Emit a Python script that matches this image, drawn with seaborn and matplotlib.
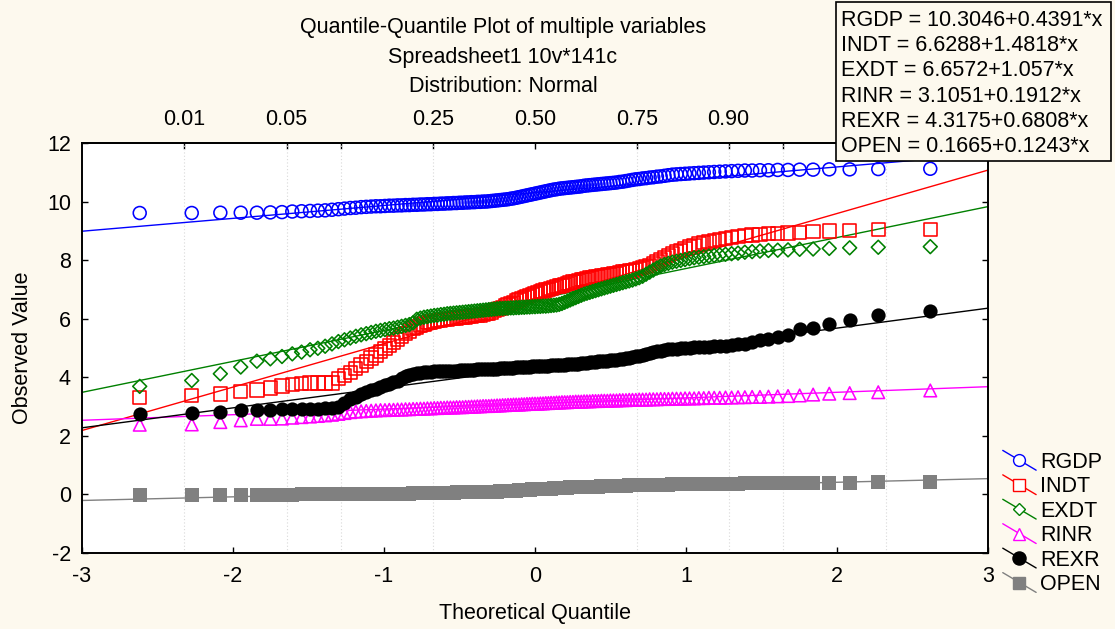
import numpy as np
import pandas as pd
import seaborn as sns
import matplotlib
matplotlib.use("Agg")
import matplotlib.pyplot as plt
from matplotlib.lines import Line2D
from matplotlib.patches import Rectangle
from matplotlib.legend_handler import HandlerLine2D
from statistics import NormalDist

# ---------------- data (sorted observed values, 141 cases each) ----------------
variables = ["RGDP", "INDT", "EXDT", "RINR", "REXR", "OPEN"]

rgdp = [9.61, 9.61, 9.62, 9.62, 9.62, 9.63, 9.64, 9.66, 9.67, 9.68,
        9.69, 9.70, 9.72, 9.74, 9.76, 9.78, 9.79, 9.81, 9.82, 9.83,
        9.84, 9.84, 9.85, 9.86, 9.86, 9.87, 9.87, 9.88, 9.88, 9.89,
        9.89, 9.90, 9.90, 9.91, 9.91, 9.92, 9.92, 9.93, 9.93, 9.94,
        9.94, 9.95, 9.95, 9.96, 9.96, 9.97, 9.97, 9.98, 9.98, 9.99,
        9.99, 10.00, 10.00, 10.01, 10.02, 10.03, 10.04, 10.05, 10.06, 10.07,
        10.08, 10.10, 10.11, 10.13, 10.15, 10.17, 10.19, 10.21, 10.23, 10.25,
        10.27, 10.29, 10.31, 10.33, 10.35, 10.37, 10.39, 10.41, 10.42, 10.44,
        10.45, 10.46, 10.47, 10.48, 10.49, 10.50, 10.51, 10.52, 10.54, 10.55,
        10.56, 10.57, 10.58, 10.59, 10.60, 10.61, 10.62, 10.63, 10.64, 10.65,
        10.67, 10.68, 10.70, 10.72, 10.74, 10.76, 10.77, 10.79, 10.80, 10.82,
        10.83, 10.85, 10.86, 10.88, 10.90, 10.92, 10.93, 10.94, 10.95, 10.96,
        10.97, 10.98, 10.99, 11.00, 11.01, 11.02, 11.03, 11.04, 11.05, 11.06,
        11.06, 11.07, 11.07, 11.08, 11.08, 11.09, 11.09, 11.10, 11.10, 11.11, 11.12]

indt = [3.30, 3.38, 3.43, 3.52, 3.57, 3.63, 3.70, 3.76, 3.79, 3.80,
        3.80, 3.80, 3.81, 3.95, 4.06, 4.17, 4.30, 4.42, 4.55, 4.66,
        4.76, 4.88, 4.98, 5.08, 5.18, 5.28, 5.40, 5.50, 5.58, 5.66,
        5.72, 5.78, 5.82, 5.86, 5.89, 5.91, 5.93, 5.95, 5.97, 5.98,
        6.00, 6.01, 6.02, 6.04, 6.05, 6.06, 6.08, 6.09, 6.10, 6.12,
        6.13, 6.15, 6.17, 6.20, 6.23, 6.27, 6.31, 6.35, 6.39, 6.43,
        6.48, 6.52, 6.56, 6.60, 6.64, 6.68, 6.72, 6.76, 6.80, 6.83,
        6.86, 6.89, 6.92, 6.95, 6.98, 7.00, 7.03, 7.06, 7.09, 7.12,
        7.14, 7.17, 7.20, 7.22, 7.25, 7.28, 7.30, 7.33, 7.35, 7.37,
        7.39, 7.41, 7.43, 7.45, 7.47, 7.48, 7.50, 7.52, 7.53, 7.55,
        7.57, 7.59, 7.61, 7.63, 7.65, 7.68, 7.71, 7.74, 7.78, 7.82,
        7.88, 7.95, 8.02, 8.09, 8.16, 8.22, 8.28, 8.33, 8.39, 8.45,
        8.50, 8.55, 8.60, 8.63, 8.66, 8.70, 8.73, 8.77, 8.80, 8.84,
        8.86, 8.88, 8.90, 8.92, 8.93, 8.95, 8.97, 8.99, 9.01, 9.04, 9.05]

exdt = [3.69, 3.89, 4.12, 4.35, 4.55, 4.63, 4.71, 4.80, 4.86, 4.94,
        4.99, 5.06, 5.14, 5.22, 5.28, 5.34, 5.40, 5.45, 5.49, 5.53,
        5.57, 5.60, 5.63, 5.66, 5.68, 5.71, 5.74, 5.77, 5.80, 5.86,
        5.98, 6.02, 6.05, 6.07, 6.09, 6.11, 6.12, 6.14, 6.15, 6.17,
        6.18, 6.19, 6.20, 6.21, 6.22, 6.23, 6.24, 6.25, 6.26, 6.27,
        6.28, 6.29, 6.30, 6.31, 6.32, 6.33, 6.34, 6.35, 6.35, 6.36,
        6.36, 6.37, 6.37, 6.38, 6.38, 6.39, 6.39, 6.40, 6.40, 6.41,
        6.41, 6.42, 6.42, 6.43, 6.43, 6.44, 6.45, 6.46, 6.47, 6.49,
        6.52, 6.56, 6.60, 6.64, 6.68, 6.72, 6.76, 6.80, 6.84, 6.87,
        6.90, 6.93, 6.96, 6.99, 7.02, 7.05, 7.08, 7.11, 7.14, 7.17,
        7.20, 7.23, 7.26, 7.29, 7.32, 7.36, 7.40, 7.45, 7.52, 7.59,
        7.66, 7.73, 7.80, 7.85, 7.89, 7.93, 7.96, 7.99, 8.02, 8.05,
        8.08, 8.10, 8.12, 8.14, 8.16, 8.18, 8.20, 8.22, 8.24, 8.27,
        8.29, 8.31, 8.33, 8.34, 8.35, 8.37, 8.38, 8.40, 8.42, 8.44, 8.46]

rinr = [2.38, 2.39, 2.47, 2.53, 2.58, 2.58, 2.59, 2.62, 2.64, 2.66,
        2.68, 2.70, 2.72, 2.75, 2.78, 2.81, 2.83, 2.84, 2.85, 2.86,
        2.87, 2.88, 2.88, 2.89, 2.89, 2.90, 2.90, 2.91, 2.91, 2.92,
        2.92, 2.93, 2.93, 2.94, 2.94, 2.95, 2.95, 2.96, 2.96, 2.97,
        2.97, 2.97, 2.98, 2.98, 2.98, 2.99, 2.99, 3.00, 3.00, 3.01,
        3.01, 3.02, 3.02, 3.02, 3.03, 3.03, 3.04, 3.04, 3.05, 3.05,
        3.06, 3.06, 3.07, 3.07, 3.07, 3.08, 3.08, 3.09, 3.09, 3.10,
        3.10, 3.10, 3.11, 3.11, 3.12, 3.12, 3.13, 3.13, 3.14, 3.14,
        3.15, 3.15, 3.15, 3.16, 3.16, 3.17, 3.17, 3.17, 3.18, 3.18,
        3.18, 3.19, 3.19, 3.19, 3.20, 3.20, 3.20, 3.21, 3.21, 3.21,
        3.22, 3.22, 3.22, 3.23, 3.23, 3.23, 3.24, 3.24, 3.24, 3.25,
        3.25, 3.25, 3.26, 3.26, 3.26, 3.27, 3.27, 3.27, 3.28, 3.28,
        3.28, 3.29, 3.29, 3.30, 3.30, 3.30, 3.31, 3.31, 3.32, 3.32,
        3.33, 3.33, 3.34, 3.35, 3.36, 3.38, 3.41, 3.44, 3.46, 3.49, 3.55]

rexr = [2.73, 2.78, 2.81, 2.87, 2.89, 2.90, 2.91, 2.92, 2.92, 2.93,
        2.93, 2.94, 2.95, 2.97, 3.12, 3.25, 3.33, 3.42, 3.50, 3.56,
        3.60, 3.66, 3.72, 3.78, 3.84, 3.89, 3.96, 4.04, 4.08, 4.12,
        4.14, 4.16, 4.17, 4.18, 4.19, 4.20, 4.20, 4.21, 4.21, 4.22,
        4.22, 4.23, 4.23, 4.24, 4.24, 4.25, 4.25, 4.26, 4.26, 4.27,
        4.27, 4.28, 4.28, 4.29, 4.29, 4.30, 4.30, 4.31, 4.31, 4.32,
        4.32, 4.33, 4.33, 4.34, 4.34, 4.35, 4.35, 4.36, 4.36, 4.37,
        4.38, 4.38, 4.39, 4.39, 4.40, 4.40, 4.41, 4.41, 4.42, 4.42,
        4.43, 4.43, 4.44, 4.45, 4.45, 4.46, 4.47, 4.48, 4.49, 4.50,
        4.51, 4.52, 4.53, 4.54, 4.55, 4.56, 4.57, 4.58, 4.59, 4.60,
        4.62, 4.63, 4.65, 4.67, 4.69, 4.71, 4.74, 4.77, 4.80, 4.84,
        4.87, 4.89, 4.91, 4.93, 4.95, 4.96, 4.98, 4.99, 5.00, 5.01,
        5.02, 5.03, 5.04, 5.05, 5.06, 5.07, 5.08, 5.10, 5.12, 5.15,
        5.20, 5.26, 5.32, 5.39, 5.43, 5.65, 5.69, 5.82, 5.97, 6.14, 6.28]

open_ = [-0.03, -0.03, -0.02, -0.02, -0.02, -0.01, -0.01, -0.01, 0.00, 0.00,
         0.00, 0.00, 0.00, 0.01, 0.01, 0.01, 0.01, 0.01, 0.01, 0.02,
         0.02, 0.02, 0.02, 0.02, 0.03, 0.03, 0.03, 0.03, 0.03, 0.04,
         0.04, 0.04, 0.04, 0.04, 0.05, 0.05, 0.05, 0.05, 0.06, 0.06,
         0.06, 0.06, 0.07, 0.07, 0.07, 0.07, 0.08, 0.08, 0.08, 0.08,
         0.09, 0.09, 0.09, 0.09, 0.10, 0.10, 0.10, 0.11, 0.11, 0.11,
         0.12, 0.12, 0.13, 0.13, 0.14, 0.14, 0.15, 0.15, 0.16, 0.17,
         0.17, 0.18, 0.18, 0.19, 0.19, 0.20, 0.20, 0.21, 0.21, 0.22,
         0.22, 0.23, 0.23, 0.24, 0.24, 0.25, 0.25, 0.25, 0.26, 0.26,
         0.26, 0.27, 0.27, 0.27, 0.28, 0.28, 0.28, 0.29, 0.29, 0.29,
         0.30, 0.30, 0.30, 0.31, 0.31, 0.31, 0.31, 0.32, 0.32, 0.32,
         0.32, 0.33, 0.33, 0.33, 0.33, 0.34, 0.34, 0.34, 0.34, 0.35,
         0.35, 0.35, 0.35, 0.36, 0.36, 0.36, 0.37, 0.37, 0.37, 0.38,
         0.38, 0.38, 0.39, 0.39, 0.39, 0.39, 0.40, 0.40, 0.40, 0.41, 0.41]

# fitted lines shown in the equation box
intercepts = [10.3046, 6.6288, 6.6572, 3.1051, 4.3175, 0.1665]
slopes = [0.4391, 1.4818, 1.057, 0.1912, 0.6808, 0.1243]
equation_labels = ["RGDP = 10.3046+0.4391*x", "INDT = 6.6288+1.4818*x",
                   "EXDT = 6.6572+1.057*x", "RINR = 3.1051+0.1912*x",
                   "REXR = 4.3175+0.6808*x", "OPEN = 0.1665+0.1243*x"]

x_ticks = [-3, -2, -1, 0, 1, 2, 3]
y_ticks = [-2, 0, 2, 4, 6, 8, 10, 12]
top_probs = [0.01, 0.05, 0.10, 0.25, 0.50, 0.75, 0.90, 0.95, 0.99]
top_labels = ["0.01", "0.05", "", "0.25", "0.50", "0.75", "0.90", "", ""]

title_lines = ["Quantile-Quantile Plot of multiple variables",
               "Spreadsheet1 10v*141c", "Distribution: Normal"]

# ---------------- styling ----------------
colors = ["#0000ff", "#ff0000", "#008000", "#ff00ff", "#000000", "#808080"]
markers = ["o", "s", "D", "^", "o", "s"]
filled = [False, False, False, False, True, True]
sizes = [86, 92, 50, 82, 105, 90]
BG = "#fdf9ee"
FONT = ["Liberation Sans", "DejaVu Sans"]
FS = 15.5

sns.set_theme(style="white")
plt.rcParams["font.family"] = FONT

W, H = 1115, 629
fig = plt.figure(figsize=(W / 100, H / 100), dpi=100, facecolor=BG)
ax = fig.add_axes([82 / W, 1 - 553 / H, (988 - 82) / W, (553 - 143) / H])
ax.set_facecolor("white")

# theoretical quantiles (Blom)
series = [rgdp, indt, exdt, rinr, rexr, open_]
nd = NormalDist()
frames = []
for name, vals in zip(variables, series):
    n = len(vals)
    z = [nd.inv_cdf((i + 1 - 0.375) / (n + 0.25)) for i in range(n)]
    frames.append(pd.DataFrame({"variable": name, "theoretical": z,
                                "observed": np.sort(vals)}))
df = pd.concat(frames, ignore_index=True)

xline = np.array([-3.0, 3.0])
handles = []
for k, name in enumerate(variables):
    sub = df[df["variable"] == name]
    c = colors[k]
    sns.lineplot(x=xline, y=intercepts[k] + slopes[k] * xline, ax=ax,
                 color=c, lw=1.0, zorder=2)
    sns.scatterplot(data=sub, x="theoretical", y="observed", ax=ax,
                    marker=markers[k], s=sizes[k], color=c,
                    linewidth=0 if filled[k] else 1.15, zorder=3)
    pts = ax.collections[-1]
    if filled[k]:
        pts.set_facecolor(c)
        pts.set_edgecolor(c)
        pts.set_linewidth(0.0)
    else:
        pts.set_facecolor("none")
        pts.set_edgecolor(c)
        pts.set_linewidth(1.15)
    handles.append(Line2D([], [], color=c, lw=1.0, marker=markers[k],
                          ms=np.sqrt(sizes[k]) * 0.92,
                          mfc=c if filled[k] else "white", mec=c,
                          mew=1.0))

ax.set_xlim(-3, 3)
ax.set_ylim(-2, 12)
ax.set_xticks(x_ticks)
ax.set_yticks(y_ticks)
ax.set_xticklabels([str(t) for t in x_ticks])
ax.set_yticklabels([str(t) for t in y_ticks])
ax.tick_params(axis="both", which="major", direction="in", length=4,
               width=1.0, color="black", labelsize=FS, labelcolor="black",
               left=True, bottom=True, right=True, top=False, pad=9)
ax.tick_params(axis="y", pad=8)

# dotted vertical grid at probability positions
top_z = [nd.inv_cdf(p) for p in top_probs]
ax.set_xticks(top_z, minor=True)
ax.tick_params(axis="x", which="minor", length=0, bottom=False)
ax.grid(False)
ax.grid(True, which="minor", axis="x", linestyle=(0, (1, 2)),
        color="#d9d9d9", lw=0.8)
ax.set_axisbelow(True)

for s in ax.spines.values():
    s.set_visible(True)
    s.set_color("black")
    s.set_linewidth(1.4)

sec = ax.secondary_xaxis("top")
sec.set_xticks(top_z)
sec.set_xticklabels(top_labels)
sec.tick_params(direction="in", length=4, width=1.0, color="black",
                labelsize=FS, labelcolor="black", pad=9)
sec.spines["top"].set_linewidth(1.4)

ax.set_xlabel("Theoretical Quantile", fontsize=FS, color="black", labelpad=12)
ax.set_ylabel("Observed Value", fontsize=FS, color="black", labelpad=10)

# titles
for j, t in enumerate(title_lines):
    fig.text(503 / W, 1 - (28 + 29 * j) / H, t, ha="center", va="center",
             fontsize=FS, color="black")

# equation box
fig.patches.append(Rectangle((836 / W, 1 - 161 / H), (1111 - 836) / W,
                             (161 - 2) / H, transform=fig.transFigure,
                             facecolor=BG, edgecolor="black", lw=1.2,
                             zorder=5))
for j, t in enumerate(equation_labels):
    fig.text(841 / W, 1 - (20 + 25.4 * j) / H, t, ha="left", va="center",
             fontsize=FS, color="black", zorder=6)


class DiagHandler(HandlerLine2D):
    def create_artists(self, legend, orig_handle, xdescent, ydescent,
                       width, height, fontsize, trans):
        x0, x1 = -xdescent, -xdescent + width
        y0 = -ydescent + height * 1.1
        y1 = -ydescent - height * 0.1
        ln = Line2D([x0, x1], [y0, y1], color=orig_handle.get_color(),
                    lw=orig_handle.get_linewidth())
        mk = Line2D([(x0 + x1) / 2], [(y0 + y1) / 2], linestyle="None",
                    marker=orig_handle.get_marker(),
                    ms=orig_handle.get_markersize(),
                    mfc=orig_handle.get_markerfacecolor(),
                    mec=orig_handle.get_markeredgecolor(),
                    mew=orig_handle.get_markeredgewidth())
        ln.set_transform(trans)
        mk.set_transform(trans)
        return [ln, mk]


leg = fig.legend(handles, variables, loc="upper left",
                 bbox_to_anchor=(992 / W, 1 - 441 / H), frameon=False,
                 fontsize=FS, handlelength=1.55, handleheight=0.8,
                 handletextpad=0.2, labelspacing=0.16, borderpad=0,
                 handler_map={Line2D: DiagHandler()})
for t in leg.get_texts():
    t.set_color("black")

fig.savefig("out.png", dpi=100, facecolor=BG)
